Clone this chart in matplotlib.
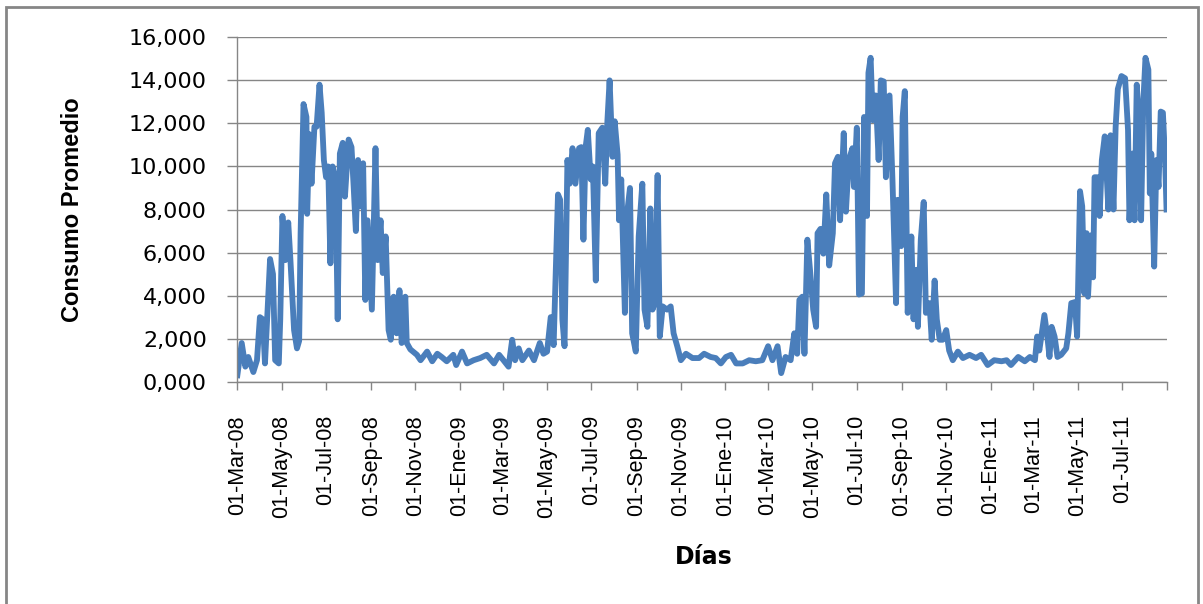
import numpy as np
import matplotlib
matplotlib.use("Agg")
import matplotlib.pyplot as plt
import matplotlib.dates as mdates
from matplotlib.ticker import FuncFormatter
from matplotlib.patches import Rectangle

# dias desde 01-Mar-08 y consumo promedio
dias = [0, 6, 11, 15, 22, 27, 31, 35, 38, 45, 49, 52, 57, 59, 62, 66, 70, 73, 78, 82,
        85, 87, 91, 95, 96, 99, 102, 106, 109, 113, 116, 119, 122, 125, 128, 131, 135, 138, 141, 145,
        148, 153, 157, 160, 163, 166, 169, 173, 176, 179, 185, 190, 193, 197, 200, 204, 208, 211, 215, 219,
        223, 226, 231, 233, 238, 247, 252, 261, 268, 275, 281, 288,
        297, 301, 309, 316, 325, 334, 343, 353, 360, 366, 373, 378, 382, 387, 392, 401, 408, 416, 421, 426,
        431, 435, 441, 444, 447, 450, 454, 457, 461, 465, 470, 473, 476, 479, 482, 486, 489, 493, 497, 502,
        506, 509, 512, 516, 519, 523, 525, 528, 533, 535, 540, 543, 548, 552, 557, 560, 564, 568, 571, 574,
        578, 581, 585, 591, 596, 600, 605, 610, 617, 626, 635, 642, 651, 658, 665, 672, 679, 686, 695, 704,
        713, 722, 730, 736, 743, 748, 754, 761, 766, 770, 773, 777, 780, 784, 788, 792, 796, 798, 802, 806,
        810, 814, 819, 822, 826, 829, 834, 837, 841, 846, 848, 852, 855, 859, 862, 866, 868, 871, 874, 878,
        882, 885, 889, 892, 897, 901, 906, 908, 913, 915, 918, 922, 927, 930, 934, 936, 940, 944, 947, 952,
        955, 959, 962, 966, 970, 975, 979, 984, 991, 998, 1007, 1016, 1023, 1032, 1041, 1051, 1058, 1064, 1074, 1083,
        1090, 1097, 1100, 1103, 1107, 1110, 1114, 1117, 1120, 1124, 1128, 1133, 1140, 1143, 1147, 1152, 1155, 1159, 1162, 1165,
        1168, 1170, 1174, 1177, 1179, 1183, 1186, 1189, 1193, 1198, 1201, 1205, 1208, 1211, 1216, 1221, 1225, 1227, 1231, 1234,
        1237, 1240, 1243, 1246, 1249, 1253, 1255, 1257, 1261, 1264, 1267, 1270, 1273, 1276, 1278]

consumo = [300, 1800, 700, 1150, 450, 1000, 3000, 2900, 850, 5700, 5000, 1000, 850, 2900, 7700, 5650, 7400, 5650, 2400, 1550,
           1900, 6900, 12900, 12300, 7800, 11500, 9200, 11850, 11850, 13800, 12500, 10300, 9500, 10000, 5500, 10000, 9400, 2900, 10600, 11100,
           8600, 11250, 10900, 9050, 7000, 10300, 8150, 10150, 3800, 7500, 3350, 10850, 5650, 7500, 5050, 6750, 2400, 1950, 3950, 2250,
           4250, 1800, 3950, 1800, 1500, 1250, 1000, 1400, 950, 1300, 1150, 950,
           1250, 775, 1400, 850, 1000, 1100, 1250, 850, 1250, 1000, 700, 1950, 1000, 1550, 1000, 1450, 1000, 1800, 1300, 1400,
           3000, 1700, 8700, 8450, 2900, 1650, 10300, 9200, 10850, 9200, 10850, 10900, 6600, 10900, 11700, 9400, 10000, 4700, 11550, 11800,
           9200, 12150, 14000, 10450, 12100, 10550, 7500, 9400, 3200, 7500, 9000, 2250, 1400, 6750, 9200, 3350, 2550, 8050, 3350, 3650,
           9600, 2100, 3500, 3350, 3500, 2250, 1650, 1000, 1300, 1100, 1100, 1300, 1150, 1100, 850, 1150, 1250, 850, 850, 1000,
           950, 1000, 1650, 1000, 1650, 400, 1150, 1000, 2250, 1300, 3800, 3950, 1300, 6600, 5050, 3350, 2550, 6900, 7100, 5950,
           8700, 5400, 6900, 10150, 10450, 7500, 11550, 7900, 10300, 10850, 9050, 11800, 4050, 4100, 12300, 7700, 14350, 15050, 12150, 13300,
           10300, 14000, 13950, 9500, 13300, 9400, 3650, 8450, 6300, 12300, 13500, 3200, 6750, 2900, 5200, 2550, 6600, 8350, 3200, 3650,
           1950, 4700, 2900, 1950, 1950, 2400, 1450, 1000, 1400, 1100, 1250, 1100, 1250, 775, 1000, 950, 1000, 775, 1150, 950,
           1150, 1000, 2100, 1450, 2400, 3100, 2100, 1150, 2550, 2100, 1150, 1250, 1550, 2250, 3650, 3700, 2100, 8850, 8150, 4100,
           6900, 3950, 6800, 4850, 9500, 9500, 7700, 10300, 11400, 8000, 11450, 8000, 11850, 13600, 14200, 14100, 11700, 7500, 10600, 7500,
           13800, 12150, 7500, 12950, 15050, 14500, 8750, 10600, 5350, 10300, 9050, 12550, 12500, 10300, 8000]

meses = ['Ene', 'Feb', 'Mar', 'Abr', 'May', 'Jun', 'Jul', 'Ago', 'Sep', 'Oct', 'Nov', 'Dic']

inicio = np.datetime64('2008-03-01')
fin = np.datetime64('2011-09-01')
fechas = inicio + np.array(dias).astype('timedelta64[D]')

gris = '#868686'
fuente = 'Liberation Sans'

fig = plt.figure(figsize=(12.03, 6.04), dpi=100)
ax = fig.add_axes([0.1973, 0.368, 0.7730, 0.5702])

ax.plot(fechas, consumo, color='#4a7ebb', linewidth=4.2, solid_joinstyle='round')

ax.set_xlim(inicio, fin)
ax.set_ylim(0, 16000)
ax.set_yticks(np.arange(0, 16001, 2000))
ax.yaxis.set_major_formatter(FuncFormatter(lambda v, p: f"{int(v) // 1000},{int(v) % 1000:03d}"))

ax.xaxis.set_major_locator(mdates.MonthLocator(bymonth=[1, 3, 5, 7, 9, 11]))
fin_num = mdates.date2num(fin)


def fmt_fecha(x, pos):
    if x >= fin_num - 0.5:
        return ''
    d = mdates.num2date(x)
    return f"01-{meses[d.month - 1]}-{d.strftime('%y')}"


ax.xaxis.set_major_formatter(FuncFormatter(fmt_fecha))

ax.grid(axis='y', color=gris, linewidth=1)
ax.set_axisbelow(True)
for s in ['top', 'right']:
    ax.spines[s].set_visible(False)
for s in ['left', 'bottom']:
    ax.spines[s].set_color(gris)
    ax.spines[s].set_linewidth(1)

ax.tick_params(axis='y', colors=gris, length=7, width=1, pad=15, labelcolor='black', labelsize=16)
ax.tick_params(axis='x', colors=gris, length=6, width=1, pad=18, labelcolor='black')
for lab in ax.get_xticklabels():
    lab.set_rotation(90)
    lab.set_family(fuente)
    lab.set_fontsize(15.5)
    lab.set_va('top')
    lab.set_ha('center')

ax.set_ylabel('Consumo Promedio', family=fuente, fontsize=17, fontweight='bold', labelpad=32)
fig.text(0.5846, 0.077, 'Días', fontsize=17, fontweight='bold', ha='center', va='center')

fig.patches.append(Rectangle((6 / 1203, -0.02), 1192 / 1203, 1 - 7 / 604 + 0.02,
                             transform=fig.transFigure, fill=False, edgecolor=gris, linewidth=2))

fig.savefig('out.png', dpi=100)
